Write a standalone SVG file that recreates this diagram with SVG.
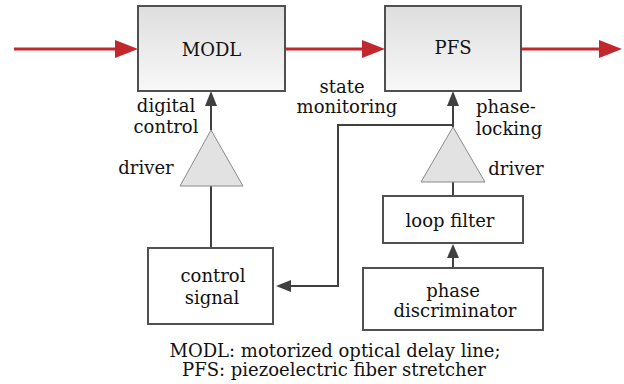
<svg xmlns="http://www.w3.org/2000/svg" width="624" height="384" viewBox="0 0 624 384">
<defs>
<linearGradient id="g" x1="0" y1="0" x2="0" y2="1">
<stop offset="0" stop-color="#dedede"/>
<stop offset="1" stop-color="#f8f8f8"/>
</linearGradient>
</defs>
<style>
text{font-family:"DejaVu Serif","Liberation Serif",serif;font-size:18px;fill:#111;text-anchor:middle}
.box{fill:#fff;stroke:#505050;stroke-width:2}
.gbox{fill:url(#g);stroke:#505050;stroke-width:2}
.tri{fill:#e2e2e2;stroke:#8a8a8a;stroke-width:1}
.red{stroke:#c1272d;stroke-width:3;fill:none}
.dk{stroke:#404040;stroke-width:2;fill:none}
</style>
<rect width="624" height="384" fill="#fff"/>
<g id="connectors">
<line class="red" x1="14" y1="49" x2="116" y2="49"/>
<path d="M115,40 L138,49 L115,58 Z" fill="#c1272d"/>
<line class="red" x1="285" y1="49" x2="363" y2="49"/>
<path d="M362,40 L385,49 L362,58 Z" fill="#c1272d"/>
<line class="red" x1="521" y1="49" x2="600" y2="49"/>
<path d="M599,40 L622,49 L599,58 Z" fill="#c1272d"/>
<line class="dk" x1="211" y1="130" x2="211" y2="104"/>
<path d="M205,106 L211,91 L217,106 Z" fill="#404040"/>
<line class="dk" x1="211" y1="186" x2="211" y2="248"/>
<line class="dk" x1="453" y1="127" x2="453" y2="104"/>
<path d="M447,106 L453,91 L459,106 Z" fill="#404040"/>
<polyline class="dk" points="453,125 338,125 338,286 290,286"/>
<path d="M291,280 L276,286 L291,292 Z" fill="#404040"/>
<line class="dk" x1="453" y1="182" x2="453" y2="196"/>
<line class="dk" x1="453" y1="268" x2="453" y2="256"/>
<path d="M447,258 L453,244 L459,258 Z" fill="#404040"/>
</g>
<g id="modl">
<rect class="gbox" x="138" y="6" width="147" height="85"/>
<text x="211.5" y="56">MODL</text>
</g>
<g id="pfs">
<rect class="gbox" x="385" y="6" width="136" height="85"/>
<text x="453" y="54">PFS</text>
</g>
<g id="driver1">
<path class="tri" d="M211,130 L243,186 L180,186 Z"/>
<text x="146" y="174">driver</text>
</g>
<g id="driver2">
<path class="tri" d="M453,127 L485,182 L421,182 Z"/>
<text x="516" y="175">driver</text>
</g>
<g id="control-signal">
<rect class="box" x="148" y="248" width="125" height="76"/>
<text x="213" y="282">control</text>
<text x="212" y="304">signal</text>
</g>
<g id="loop-filter">
<rect class="box" x="383" y="196" width="140" height="47"/>
<text x="450" y="227">loop filter</text>
</g>
<g id="phase-discriminator">
<rect class="box" x="363" y="268" width="180" height="62"/>
<text x="453" y="297">phase</text>
<text x="455" y="317">discriminator</text>
</g>
<g id="labels">
<text x="166" y="112">digital</text>
<text x="166" y="133">control</text>
<text x="342" y="93">state</text>
<text x="347" y="113">monitoring</text>
<text x="506" y="113">phase-</text>
<text x="509" y="135">locking</text>
<text x="335" y="357">MODL: motorized optical delay line;</text>
<text x="334" y="376">PFS: piezoelectric fiber stretcher</text>
</g>
</svg>
